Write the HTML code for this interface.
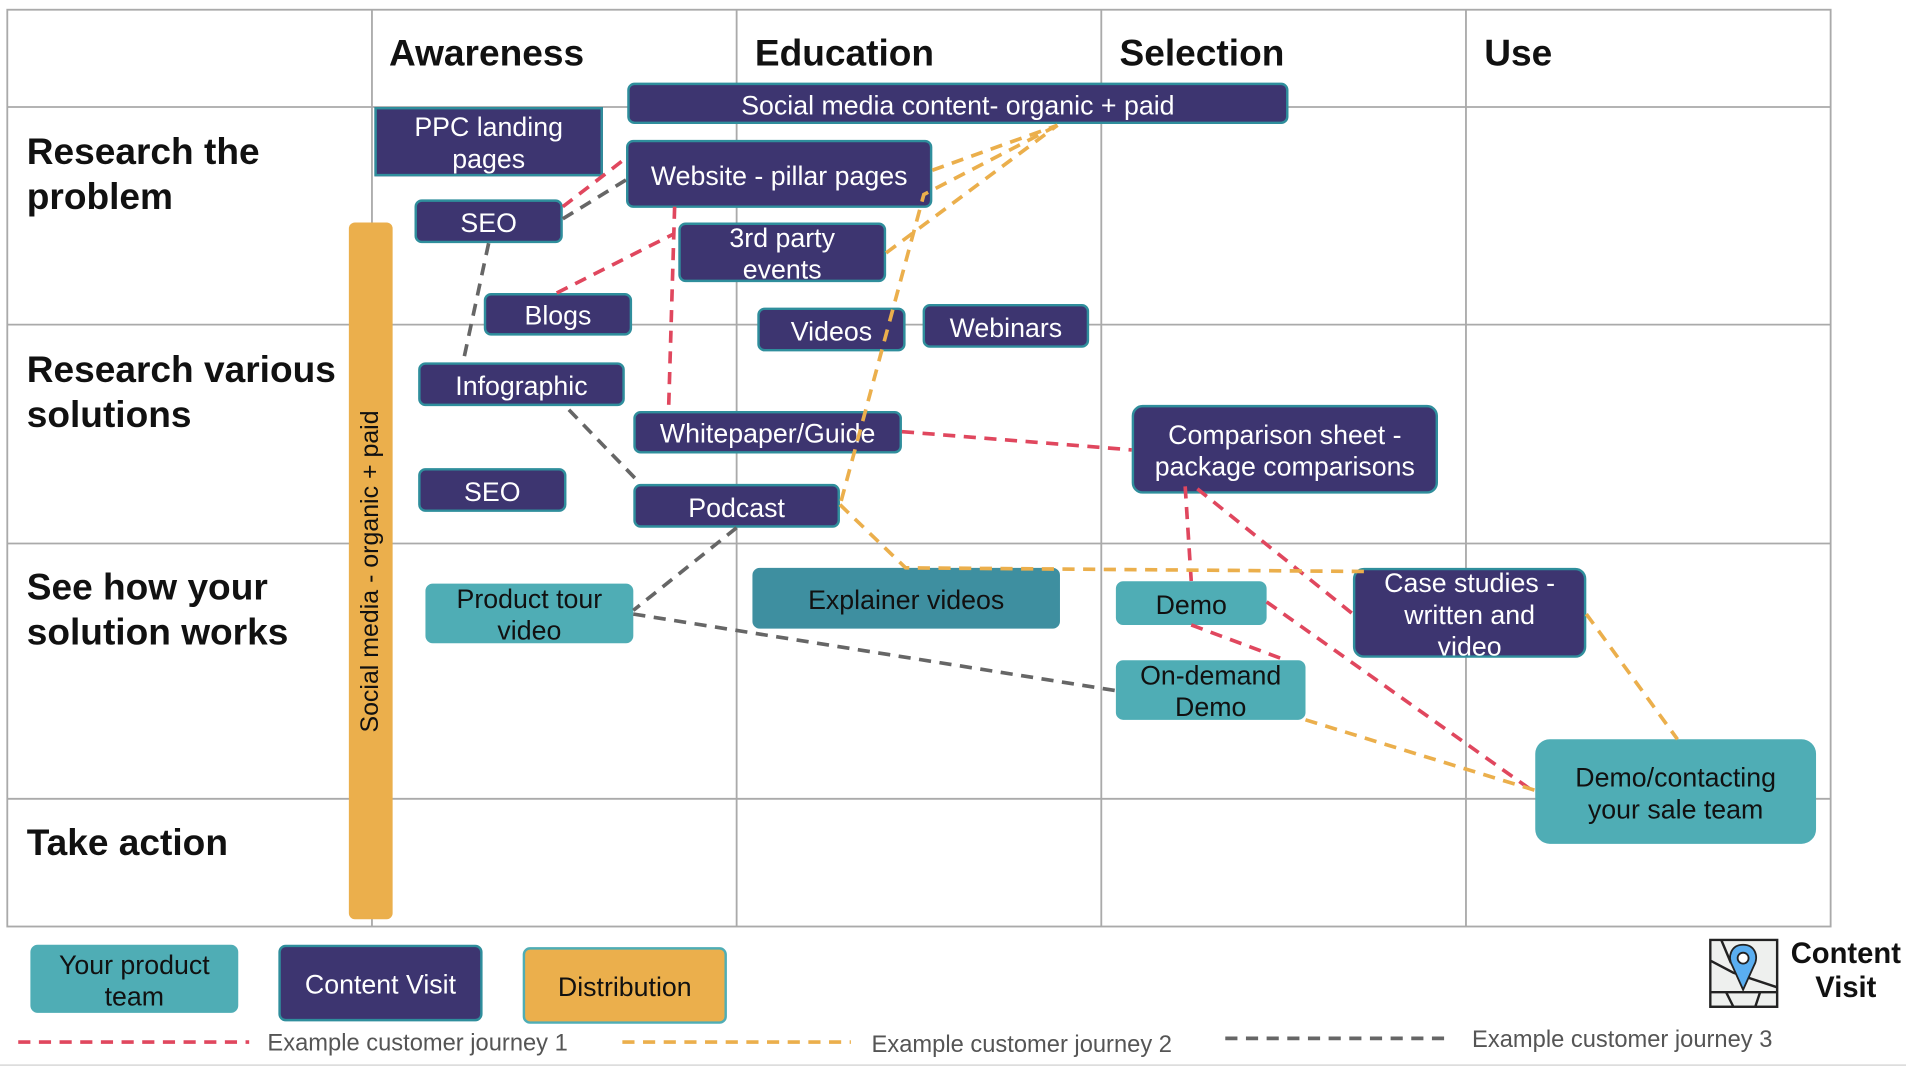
<!DOCTYPE html>
<html><head><meta charset="utf-8"><style>
html,body{margin:0;padding:0;background:#fff;width:1906px;height:1070px;overflow:hidden}
#w{position:absolute;left:0;top:0;width:1568px;height:880px;transform:scale(1.21556,1.2159);transform-origin:0 0;font-family:"Liberation Sans",Arial,sans-serif}
.n{position:absolute;box-sizing:border-box;display:flex;align-items:center;justify-content:center;text-align:center;font-size:22px;line-height:26px;border-radius:6px;padding-top:3px}
.p{background:#3D3570;color:#fff;border:2px solid #2F8E9C}
.t{background:#4FADB5;color:#111;border:1px solid #4FADB5}
.h{position:absolute;font-weight:bold;font-size:30.5px;line-height:37px;color:#111}
.lg{position:absolute;font-size:19.5px;color:#555}
</style></head><body><div id="w">
<svg width="1568" height="880" style="position:absolute;left:0;top:0">
<g stroke="#aaa" stroke-width="1.5" fill="none">
<rect x="6" y="8" width="1500" height="754"/>
<line x1="306" y1="8" x2="306" y2="762"/><line x1="606" y1="8" x2="606" y2="762"/><line x1="906" y1="8" x2="906" y2="762"/><line x1="1206" y1="8" x2="1206" y2="762"/>
<line x1="6" y1="88" x2="1506" y2="88"/><line x1="6" y1="267" x2="1506" y2="267"/><line x1="6" y1="447" x2="1506" y2="447"/><line x1="6" y1="657" x2="1506" y2="657"/>
<line x1="0" y1="876" x2="1568" y2="876" stroke="#ddd"/>
</g>
</svg>
<div class="h" style="left:320px;top:26px">Awareness</div>
<div class="h" style="left:621px;top:26px">Education</div>
<div class="h" style="left:921px;top:26px">Selection</div>
<div class="h" style="left:1221px;top:26px">Use</div>
<div class="h" style="left:22px;top:107px">Research the<br>problem</div>
<div class="h" style="left:22px;top:286px">Research various<br>solutions</div>
<div class="h" style="left:22px;top:465px">See how your<br>solution works</div>
<div class="h" style="left:22px;top:675px">Take action</div>
<div style="position:absolute;left:287px;top:183px;width:36px;height:573px;background:#EBAF4C;border-radius:5px"></div>
<div style="position:absolute;left:305px;top:470px;width:0;height:0"><div style="position:absolute;transform:translate(-50%,-50%) rotate(-90deg);white-space:nowrap;font-size:20.5px;color:#111">Social media - organic + paid</div></div>

<div class="n p" style="left:516px;top:68px;width:544px;height:34px">Social media content- organic + paid</div>
<div class="n p" style="left:308px;top:88px;width:188px;height:57px;border-radius:0">PPC landing<br>pages</div>
<div class="n p" style="left:515px;top:115px;width:252px;height:56px">Website - pillar pages</div>
<div class="n p" style="left:341px;top:164px;width:122px;height:36px">SEO</div>
<div class="n p" style="left:558px;top:183px;width:171px;height:49px">3rd party<br>events</div>
<div class="n p" style="left:398px;top:241px;width:122px;height:35px">Blogs</div>
<div class="n p" style="left:623px;top:253px;width:122px;height:36px">Videos</div>
<div class="n p" style="left:759px;top:250px;width:137px;height:36px">Webinars</div>
<div class="n p" style="left:344px;top:298px;width:170px;height:36px">Infographic</div>
<div class="n p" style="left:521px;top:338px;width:221px;height:35px">Whitepaper/Guide</div>
<div class="n p" style="left:344px;top:385px;width:122px;height:36px">SEO</div>
<div class="n p" style="left:521px;top:398px;width:170px;height:36px">Podcast</div>
<div class="n p" style="left:931px;top:333px;width:252px;height:73px;border-radius:9px">Comparison sheet -<br>package comparisons</div>
<div class="n p" style="left:1113px;top:467px;width:192px;height:74px;border-radius:9px">Case studies -<br>written and<br>video</div>
<div class="n t" style="left:350px;top:480px;width:171px;height:49px">Product tour<br>video</div>
<div class="n t" style="left:619px;top:467px;width:253px;height:50px;background:#3E8FA0;border-color:#3E8FA0">Explainer videos</div>
<div class="n t" style="left:918px;top:478px;width:124px;height:36px">Demo</div>
<div class="n t" style="left:918px;top:543px;width:156px;height:49px">On-demand<br>Demo</div>
<div class="n t" style="left:1263px;top:608px;width:231px;height:86px;border-radius:12px">Demo/contacting<br>your sale team</div>

<div class="n t" style="left:25px;top:777px;width:171px;height:56px">Your product<br>team</div>
<div class="n p" style="left:229px;top:777px;width:168px;height:63px;border-color:#2F8E9C">Content Visit</div>
<div class="n" style="left:430px;top:779px;width:168px;height:63px;background:#EBAF4C;border:2px solid #4FADB5;color:#111">Distribution</div>
<div class="lg" style="left:220px;top:847px">Example customer journey 1</div>
<div class="lg" style="left:717px;top:848px">Example customer journey 2</div>
<div class="lg" style="left:1211px;top:844px">Example customer journey 3</div>
<div style="position:absolute;left:1472px;top:771px;font-weight:bold;font-size:24px;line-height:28px;text-align:center;width:93px;color:#111">Content<br>Visit</div>

<svg width="1568" height="880" style="position:absolute;left:0;top:0" fill="none" stroke-width="3" stroke-dasharray="10 7">
<g stroke="#E0475E">
<path d="M463 170 L515 130"/><path d="M458 241 L555 192"/><path d="M555 170 L550 338"/>
<path d="M742 355 L931 370"/><path d="M975 400 L980 478"/><path d="M985 402 L1113 505"/>
<path d="M980 514 L1058 543"/><path d="M1042 495 L1263 652"/>
<path d="M15 857 L205 857"/>
</g>
<g stroke="#EBAF4C">
<path d="M767 140 L870 103"/><path d="M729 208 L870 103"/><path d="M692 412 L760 160 L870 103"/>
<path d="M691 415 L745 467 L1123 470"/><path d="M1074 592 L1263 650"/><path d="M1305 505 L1380 608"/>
<path d="M512 857 L700 857"/>
</g>
<g stroke="#666">
<path d="M463 180 L515 148"/><path d="M402 200 L382 293"/><path d="M468 337 L527 398"/>
<path d="M606 434 L521 502"/><path d="M521 505 L918 568"/>
<path d="M1008 854 L1195 854"/>
</g>
</svg>
<svg width="58" height="58" viewBox="0 0 58 58" style="position:absolute;left:1406px;top:772px">
<rect x="1" y="1" width="55" height="55" fill="#eef0ee" stroke="#222" stroke-width="2"/>
<g stroke="#222" stroke-width="2" fill="none"><path d="M1 18 L20 28 L56 40"/><path d="M10 1 L18 20"/><path d="M1 44 L56 44"/><path d="M14 44 L20 56"/><path d="M42 44 L38 56"/></g>
<rect x="30" y="10" width="8" height="3" fill="#5a6fd0"/>
<path d="M28 5 C18 5 15 15 19 22 L28 42 L37 22 C41 15 38 5 28 5 Z" fill="#5aaef0" stroke="#222" stroke-width="1.5"/>
<circle cx="28" cy="16" r="4.5" fill="#fff" stroke="#222" stroke-width="1.5"/>
</svg>
</div></body></html>
